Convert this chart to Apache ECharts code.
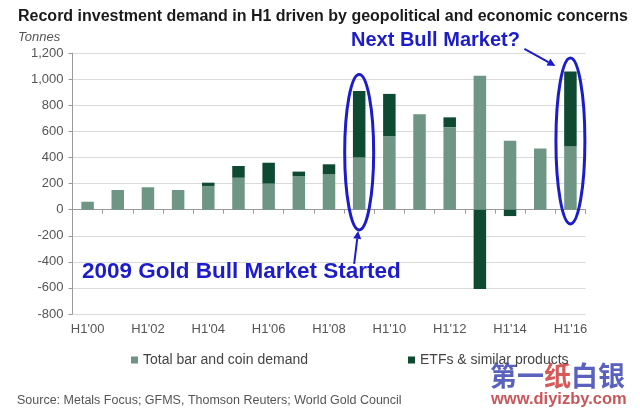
<!DOCTYPE html>
<html>
<head>
<meta charset="utf-8">
<script src="https://cdn.jsdelivr.net/npm/echarts@6/dist/echarts.min.js"></script>
<style>
html,body{margin:0;padding:0;background:#fff;}
#c{width:640px;height:413px;}
</style>
</head>
<body>
<div id="c"></div>
<script>
const categories = ["H1'00","H1'01","H1'02","H1'03","H1'04","H1'05","H1'06","H1'07","H1'08","H1'09","H1'10","H1'11","H1'12","H1'13","H1'14","H1'15","H1'16"];
const barCoin = [61,151,172,151,182,245,200,258,271,400,562,731,633,1028,528,469,484];
const etfs = [0,0,0,0,25,90,160,34,77,510,326,0,75,-608,-49,0,575];
const yTicks = [-800,-600,-400,-200,0,200,400,600,800,1000,1200];

const FONT = 'Liberation Sans, Arial, sans-serif';
const BLUE = '#1c1cc8';
const chart = echarts.init(document.getElementById('c'));

chart.setOption({
  animation: false,
  backgroundColor: '#fff',
  title: {
    text: 'Record investment demand in H1 driven by geopolitical and economic concerns',
    left: 13, top: 4,
    textStyle: {fontFamily: FONT, fontSize: 16, fontWeight: 'bold', color: '#1a1a1a'}
  },
  grid: {left: 72.5, right: 54.5, top: 53.2, bottom: 99},
  legend: {
    left: 126, top: 348,
    itemWidth: 7, itemHeight: 7, itemGap: 100,
    icon: 'rect',
    textStyle: {fontFamily: FONT, fontSize: 14, color: '#444'},
    data: ['Total bar and coin demand', 'ETFs & similar products']
  },
  xAxis: [{
    type: 'category', data: categories,
    axisLine: {onZero: true, lineStyle: {color: '#9a9a9a', width: 1}},
    axisTick: {show: true, interval: 0, length: 4, lineStyle: {color: '#9a9a9a'}},
    axisLabel: {show: false}
  }, {
    type: 'category', data: categories, position: 'bottom',
    axisLine: {show: false, onZero: false},
    axisTick: {show: false},
    axisLabel: {interval: 1, margin: 9, fontFamily: FONT, fontSize: 13, color: '#555'}
  }],
  yAxis: {
    type: 'value', min: yTicks[0], max: yTicks[yTicks.length-1], interval: 200,
    axisLine: {show: true, lineStyle: {color: '#9a9a9a'}},
    axisTick: {show: true, length: 4, lineStyle: {color: '#9a9a9a'}},
    splitLine: {lineStyle: {color: '#dadada'}},
    axisLabel: {fontFamily: FONT, fontSize: 13, color: '#555', margin: 9,
      formatter: v => v.toLocaleString('en-US')}
  },
  series: [{
    name: 'Total bar and coin demand', type: 'bar', stack: 'd',
    data: barCoin, barWidth: 12.5, xAxisIndex: 0,
    itemStyle: {color: '#6f9585'}
  }, {
    name: 'ETFs & similar products', type: 'bar', stack: 'd',
    data: etfs, barWidth: 12.5, xAxisIndex: 0,
    itemStyle: {color: '#0d4a31'}
  }]
});

// annotations anchored to data positions
function px(cat, val){ return chart.convertToPixel({xAxisIndex:0, yAxisIndex:0}, [cat, val]); }
const e1t = px("H1'09", 1036), e1b = px("H1'09", -155);
const e2t = px("H1'16", 1163), e2b = px("H1'16", -109);
const catW = 513/categories.length;
function ellipse(t, b){
  return {type:'ellipse', shape:{cx:t[0], cy:(t[1]+b[1])/2, rx:catW*0.48, ry:(b[1]-t[1])/2},
    style:{fill:'none', stroke:BLUE, lineWidth:3}, z:100};
}
function arrow(x1,y1,x2,y2){
  const a = Math.atan2(y2-y1, x2-x1), L = 8, W = 4;
  const bx = x2 - L*Math.cos(a), by = y2 - L*Math.sin(a);
  const nx = -Math.sin(a), ny = Math.cos(a);
  return [
    {type:'line', shape:{x1:x1,y1:y1,x2:bx,y2:by}, style:{stroke:BLUE, lineWidth:2}, z:100},
    {type:'polygon', shape:{points:[[x2,y2],[bx+nx*W,by+ny*W],[bx-nx*W,by-ny*W]]}, style:{fill:BLUE}, z:100}
  ];
}
const e2cx = e2t[0], e2cy = (e2t[1]+e2b[1])/2;
chart.setOption({
  graphic: [
    ellipse(e1t, e1b),
    ellipse(e2t, e2b),
    ...arrow(e1b[0]-5, e1b[1]+34, e1b[0]-1, e1b[1]+1),
    ...arrow(e2cx-46, e2cy-92, e2cx-15, e2cy-75),
    {type:'text', left: 351, top: 30, z:100,
      style:{text:'Next Bull Market?', fontFamily:FONT, fontSize:20, fontWeight:'bold', fill:BLUE}},
    {type:'text', left: 82, top: 260, z:100,
      style:{text:'2009 Gold Bull Market Started', fontFamily:FONT, fontSize:22.5, fontWeight:'bold', fill:BLUE}},
    {type:'text', left: 18, top: 31,
      style:{text:'Tonnes', fontFamily:FONT, fontSize:13, fontStyle:'italic', fill:'#555'}},
    {type:'text', left: 17, top: 394,
      style:{text:'Source: Metals Focus; GFMS, Thomson Reuters; World Gold Council', fontFamily:FONT, fontSize:12.5, fill:'#555'}},
    {type:'group', left: 490, top: 362, children:[
      {type:'text', style:{text:'第一', x:0, y:0, fontFamily:'Noto Sans CJK SC', fontSize:27, fontWeight:'bold', fill:'#5a62bd'}},
      {type:'text', style:{text:'纸', x:54, y:0, fontFamily:'Noto Sans CJK SC', fontSize:27, fontWeight:'bold', fill:'#d65a5a'}},
      {type:'text', style:{text:'白银', x:81, y:0, fontFamily:'Noto Sans CJK SC', fontSize:27, fontWeight:'bold', fill:'#5a62bd'}}
    ]},
    {type:'text', left: 491, top: 391,
      style:{text:'www.diyizby.com', fontFamily:FONT, fontSize:16.5, fontWeight:'bold', fill:'#c9575a'}}
  ]
});
</script>
</body>
</html>
